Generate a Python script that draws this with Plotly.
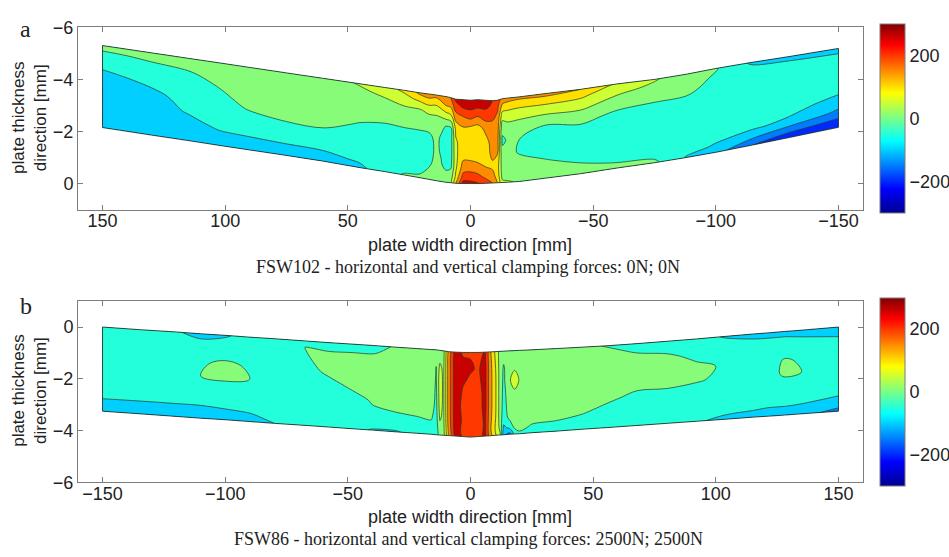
import plotly.graph_objects as go

# ---------------- data ----------------
# thickness fraction through the plate: 0 = lower surface, 1 = upper surface
T = [0, 0.08, 0.2, 0.35, 0.5, 0.65, 0.8, 0.92, 1.0]

# ---- panel a : FSW102 (0N; 0N) ----
A_X = [-150, -130, -115, -100, -88, -75, -60, -45, -30, -20, -15, -13, -11, -9, -6, -3, 0,
       3, 6, 8, 10, 12, 14, 17, 21, 27, 35, 45, 60, 75, 90, 102, 115, 130, 150]
A_TOP = [-5.19, -4.88, -4.66, -4.42, -4.2, -4.0, -3.83, -3.62, -3.45, -3.33, -3.28, -3.26, -3.2,
         -3.18, -3.2, -3.22, -3.2, -3.22, -3.24, -3.3, -3.34, -3.37, -3.4, -3.44, -3.49, -3.58,
         -3.69, -3.83, -4.04, -4.25, -4.46, -4.63, -4.81, -5.02, -5.3]
A_BOT = [-2.16, -1.77, -1.48, -1.2, -1.0, -0.8, -0.6, -0.38, -0.2, -0.08, -0.05, -0.04, -0.03,
         -0.02, -0.01, 0, 0, 0, -0.01, -0.03, -0.05, -0.08, -0.11, -0.16, -0.23, -0.33, -0.46,
         -0.61, -0.86, -1.08, -1.29, -1.46, -1.65, -1.86, -2.15]
# stress [MPa] per station, lower surface -> upper surface
A_STRESS = [
    [-200, -165, -110, -65, -30, -25, -25, -45, -75],   # -150
    [-185, -140, -60, -35, -25, -25, -25, -40, -70],    # -130
    [-150, -100, -45, -30, -25, -25, -25, -35, -60],    # -115
    [-80, -55, -35, -25, -25, -25, -15, -5, 5],         # -100
    [-55, -35, -25, -25, -25, -15, 10, 25, 25],         # -88
    [10, -10, -25, -25, -25, -15, 15, 40, 55],          # -75
    [20, -5, -20, -25, -25, -10, 30, 65, 90],           # -60
    [30, 10, -15, -25, -20, 15, 65, 110, 150],          # -45
    [40, 25, 5, -20, -25, 5, 70, 120, 170],             # -30
    [45, 30, 20, -5, 0, 25, 70, 120, 165],              # -20
    [55, 35, 25, 15, 5, 30, 75, 130, 175],              # -15
    [60, 35, 25, 15, -10, 15, 75, 140, 185],            # -13
    [150, 130, 120, 150, 170, 175, 190, 210, 220],      # -11
    [200, 170, 140, 160, 170, 175, 210, 240, 250],      # -9
    [230, 190, 150, 130, 130, 160, 220, 260, 270],      # -6
    [255, 215, 165, 120, 115, 125, 200, 260, 270],      # -3
    [265, 225, 175, 125, 115, 130, 215, 265, 280],      # 0
    [270, 220, 170, 130, 120, 140, 200, 260, 280],      # 3
    [150, 110, 90, 90, 95, 110, 180, 230, 260],         # 6
    [45, 25, -10, -20, -20, 0, 100, 170, 200],          # 8
    [40, 20, -20, -25, -25, -2, 90, 165, 190],          # 10
    [35, 25, 5, -5, -5, 10, 70, 140, 180],              # 12
    [30, 25, 15, 10, 10, 20, 60, 120, 170],             # 14
    [20, 10, -10, -20, -10, 20, 60, 130, 180],          # 17
    [10, -10, -25, -20, -10, 15, 45, 110, 160],         # 21
    [5, -15, -25, -20, -10, 15, 45, 85, 110],           # 27
    [-25, -25, -25, -20, -10, 10, 30, 60, 80],          # 35
    [-60, -45, -30, -20, -5, 15, 30, 40, 55],           # 45
    [-75, -60, -35, -8, 15, 25, 25, 25, 25],            # 60
    [-75, -65, -35, -10, 15, 25, 25, 25, 25],           # 75
    [-75, -70, -40, -25, 5, 25, 25, 25, 25],            # 90
    [-75, -75, -45, -30, -20, -5, 15, 25, 25],          # 102
    [-75, -75, -70, -45, -30, -25, -10, 15, 25],        # 115
    [-75, -75, -75, -75, -65, -35, -15, 5, 25],         # 130
    [-75, -75, -75, -75, -75, -65, -25, -5, 25],        # 150
]

# ---- panel b : FSW86 (2500N; 2500N) ----
B_X = [-150, -135, -120, -110, -100, -90, -80, -67, -58, -48, -40, -30, -22, -16, -14, -12.5,
       -11, -9, -6, -3, 0, 3, 6, 8, 10, 12, 13.5, 16, 18, 20, 25, 35, 45, 56, 68, 80, 92, 104,
       115, 122, 128, 135, 150]
B_TOP = [0, -0.1, -0.19, -0.26, -0.32, -0.39, -0.45, -0.54, -0.6, -0.66, -0.71, -0.78, -0.83,
         -0.87, -0.88, -0.9, -0.92, -0.95, -0.97, -0.98, -0.98, -0.98, -0.97, -0.96, -0.95,
         -0.94, -0.93, -0.92, -0.91, -0.9, -0.88, -0.83, -0.78, -0.72, -0.64, -0.55, -0.46,
         -0.36, -0.27, -0.22, -0.17, -0.12, 0]
B_BOT = [-3.25, -3.35, -3.45, -3.52, -3.58, -3.65, -3.72, -3.8, -3.86, -3.93, -3.98, -4.05,
         -4.1, -4.14, -4.16, -4.17, -4.18, -4.19, -4.21, -4.23, -4.25, -4.23, -4.21, -4.2,
         -4.18, -4.17, -4.16, -4.14, -4.13, -4.12, -4.08, -4.02, -3.95, -3.88, -3.8, -3.72,
         -3.64, -3.56, -3.48, -3.44, -3.4, -3.35, -3.25]
B_STRESS = [
    [-75, -70, -35, -25, -25, -25, -25, -25, -25],      # -150
    [-70, -65, -40, -25, -25, -25, -25, -25, -25],      # -135
    [-70, -65, -40, -25, -25, -25, -25, -35, -45],      # -120
    [-70, -65, -40, -25, 0, -5, -30, -45, -65],         # -110
    [-70, -60, -35, -20, 8, 10, -20, -40, -55],         # -100
    [-65, -55, -25, -20, 0, -5, -25, -30, -35],         # -90
    [-50, -35, -25, -25, -25, -25, -25, -25, -25],      # -80
    [-30, -25, -25, -25, -25, -20, -5, 2, -15],         # -67
    [-30, -25, -25, -25, -20, 10, 20, -5, -20],         # -58
    [-35, -25, -25, -20, 10, 25, 25, -5, -20],          # -48
    [-55, -25, -10, 5, 25, 25, 25, -5, -15],            # -40
    [-55, -25, -5, 20, 25, 25, 25, 15, 5],              # -30
    [-30, -20, 0, 20, 25, 25, 25, 25, 20],              # -22
    [-25, -15, 5, 25, 30, 30, 35, 35, 30],              # -16
    [-30, -25, -20, -15, -10, -5, -2, 20, 30],          # -14
    [20, 35, 55, 70, 75, 75, 60, 35, 30],               # -12.5
    [30, 35, 40, 40, 40, 40, 40, 35, 35],               # -11
    [150, 160, 170, 170, 170, 170, 170, 170, 160],      # -9
    [280, 285, 285, 285, 285, 285, 285, 285, 280],      # -6
    [240, 230, 240, 230, 240, 255, 260, 255, 240],      # -3
    [235, 225, 230, 225, 230, 240, 255, 250, 240],      # 0
    [230, 225, 225, 230, 230, 240, 245, 240, 235],      # 3
    [265, 260, 260, 265, 265, 265, 265, 260, 255],      # 6
    [170, 160, 165, 170, 170, 170, 170, 165, 160],      # 8
    [110, 100, 110, 115, 115, 115, 110, 100, 95],       # 10
    [60, 40, 30, 30, 30, 30, 30, 30, 30],               # 12
    [-90, -60, -30, -20, -15, -10, -5, 10, 25],         # 13.5
    [-120, -40, 15, 25, 30, 45, 30, 25, 25],            # 16
    [-40, 10, 25, 25, 40, 80, 40, 25, 25],              # 18
    [-10, 15, 25, 25, 30, 45, 30, 25, 25],              # 20
    [-25, -5, 20, 25, 25, 25, 25, 25, 20],              # 25
    [-25, -10, 15, 25, 25, 25, 25, 25, 20],             # 35
    [-30, -25, 5, 20, 25, 25, 25, 25, 15],              # 45
    [-35, -25, -20, 10, 25, 25, 25, 15, -5],            # 56
    [-35, -25, -25, -15, 15, 25, 25, -10, -25],         # 68
    [-40, -30, -25, -15, 15, 25, 10, -15, -25],         # 80
    [-45, -30, -25, -20, 5, 10, -10, -25, -30],         # 92
    [-60, -45, -25, -25, -10, -5, -25, -35, -55],       # 104
    [-65, -50, -25, -25, -25, -25, -25, -45, -65],      # 115
    [-70, -55, -30, -25, -20, -20, -25, -45, -70],      # 122
    [-75, -55, -30, -25, 10, 5, -25, -45, -70],         # 128
    [-80, -60, -30, -25, 0, -5, -25, -50, -75],         # 135
    [-120, -80, -45, -25, -25, -25, -25, -60, -80],     # 150
]

X_TICKS = [-150, -100, -50, 0, 50, 100, 150]
Y_TICKS = [-6, -4, -2, 0]
CBAR_TICKS = [-200, 0, 200]

# ---------------- styling ----------------
W, H = 949, 557
BAND_COLORS = ['rgb(0,0,143)', 'rgb(0,0,216)', 'rgb(0,40,255)', 'rgb(0,124,255)',
               'rgb(0,207,255)', 'rgb(36,255,219)', 'rgb(135,252,120)', 'rgb(205,255,50)',
               'rgb(255,223,0)', 'rgb(255,140,0)', 'rgb(255,56,0)', 'rgb(200,0,0)']
BAND_SCALE = [[k / (len(BAND_COLORS) - 1), c] for k, c in enumerate(BAND_COLORS)]
JET = [[0.0, 'rgb(0,0,143)'], [0.127, 'rgb(0,0,255)'], [0.381, 'rgb(0,255,255)'],
       [0.635, 'rgb(255,255,0)'], [0.889, 'rgb(255,0,0)'], [1.0, 'rgb(128,0,0)']]
SANS = 'Liberation Sans, Arial, sans-serif'
SERIF = 'Liberation Serif, Times New Roman, serif'
EDGE = 'rgba(40,60,40,0.9)'
BOX = 'rgb(125,125,125)'


def carpet_xy(xs, top, bot):
    X = [[x for x in xs] for _ in T]
    Y = [[b + t * (tp - b) for tp, b in zip(top, bot)] for t in T]
    return X, Y


def zgrid(cols):
    return [[c[j] for c in cols] for j in range(len(T))]


def carpet_axis():
    return dict(showgrid=False, showticklabels='none', showline=False,
                startline=True, endline=True, startlinecolor=EDGE, endlinecolor=EDGE,
                startlinewidth=1, endlinewidth=1, minorgridcount=0, smoothing=0)


fig = go.Figure()
panels = [('ca', A_X, A_TOP, A_BOT, A_STRESS, 'x', 'y'),
          ('cb', B_X, B_TOP, B_BOT, B_STRESS, 'x2', 'y2')]
for cid, xs, top, bot, stress, xa, ya in panels:
    X, Y = carpet_xy(xs, top, bot)
    fig.add_trace(go.Carpet(carpet=cid, a=xs, b=T, x=X, y=Y, xaxis=xa, yaxis=ya,
                            aaxis=carpet_axis(), baxis=carpet_axis()))
    fig.add_trace(go.Contourcarpet(carpet=cid, a=xs, b=T, z=zgrid(stress),
                                   autocontour=False,
                                   contours=dict(start=-250, end=250, size=50,
                                                 coloring='fill', showlines=True),
                                   line=dict(color=EDGE, width=0.8, smoothing=1),
                                   colorscale=BAND_SCALE, showscale=False,
                                   xaxis=xa, yaxis=ya))

# continuous jet colour bars (one per panel)
for xa, ya, top_px, bot_px in [('x', 'y', 18, 207), ('x2', 'y2', 302, 490)]:
    fig.add_trace(go.Scatter(
        x=[None], y=[None], mode='markers', xaxis=xa, yaxis=ya, showlegend=False,
        hoverinfo='skip',
        marker=dict(color=[0], colorscale=JET, cmin=-300, cmax=300, showscale=True,
                    colorbar=dict(x=880 / W, xanchor='left', xpad=0, ypad=0,
                                  y=1 - (top_px + bot_px) / 2 / H, yanchor='middle',
                                  len=bot_px - top_px, lenmode='pixels',
                                  thickness=25, thicknessmode='pixels',
                                  tickvals=CBAR_TICKS, ticks='', outlinewidth=1,
                                  outlinecolor=BOX,
                                  tickfont=dict(family=SANS, size=18, color='#222')))))

axis_common = dict(showgrid=False, zeroline=False, showline=True, linecolor=BOX, linewidth=1,
                   mirror='ticks', ticks='inside', ticklen=5, tickcolor=BOX,
                   tickfont=dict(family=SANS, size=18, color='#222'))
dom_x = [78 / W, 863 / W]
fig.update_layout(
    width=W, height=H, autosize=False, margin=dict(l=0, r=0, t=0, b=0),
    paper_bgcolor='white', plot_bgcolor='white', showlegend=False,
    xaxis=dict(domain=dom_x, range=[160, -160], tickvals=X_TICKS, anchor='y',
               ticklabelstandoff=-5, **axis_common),
    yaxis=dict(domain=[1 - 207 / H, 1 - 18 / H], range=[1, -6], tickvals=Y_TICKS,
               anchor='x', **axis_common),
    xaxis2=dict(domain=dom_x, range=[-160, 160], tickvals=X_TICKS, anchor='y2',
                ticklabelstandoff=-5, **axis_common),
    yaxis2=dict(domain=[1 - 490 / H, 1 - 302 / H], range=[-6, 1], tickvals=Y_TICKS,
                anchor='x2', **axis_common),
)


def ann(text, px, py, size, family, angle=0):
    fig.add_annotation(text=text, x=px / W, y=1 - py / H, xref='paper', yref='paper',
                       showarrow=False, textangle=angle, xanchor='center', yanchor='middle',
                       font=dict(family=family, size=size, color='#222'))


ann('a', 25, 20, 24, SERIF)
ann('b', 26, 307, 24, SERIF)
ann('plate thickness<br>direction [mm]', 30, 112, 17, SANS, -90)
ann('plate thickness<br>direction [mm]', 30, 395, 17, SANS, -90)
ann('plate width direction [mm]', 470, 244, 18, SANS)
ann('plate width direction [mm]', 470, 526, 18, SANS)
ann('FSW102 - horizontal and vertical clamping forces: 0N; 0N', 468, 267, 18, SERIF)
ann('FSW86 - horizontal and vertical clamping forces: 2500N; 2500N', 468, 549, 18, SERIF)

fig.write_html('out.html')
